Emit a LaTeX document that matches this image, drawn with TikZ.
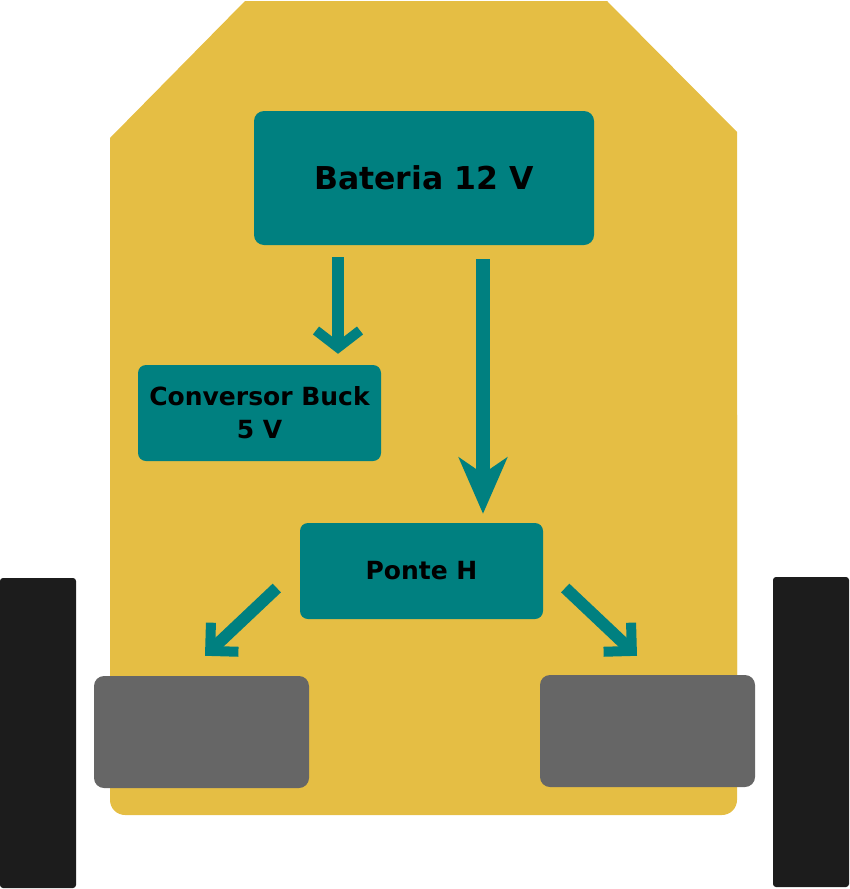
\documentclass[tikz,border=0pt]{standalone}
\usepackage{fontspec}
\setmainfont{DejaVu Sans}
\usetikzlibrary{arrows.meta,calc}
\definecolor{bodyyellow}{HTML}{E5BE44}
\definecolor{tealbox}{HTML}{008080}
\definecolor{motorgray}{HTML}{666666}
\definecolor{wheelblack}{HTML}{1C1C1C}
\begin{document}
\begin{tikzpicture}[x=1pt,y=-1pt,
  box/.style={fill=tealbox,rounded corners=10pt,inner sep=0pt,align=center,font=\bfseries\fontsize{25}{33}\selectfont},
  motor/.style={fill=motorgray,rounded corners=10pt,inner sep=0pt},
  wheel/.style={fill=wheelblack,rounded corners=3pt,inner sep=0pt,minimum width=76pt,minimum height=310pt},
  arrbarb/.style={draw=tealbox,line width=12pt},
  arrbig/.style={draw=tealbox,line width=14pt,-{Stealth[length=56pt,width=48pt,inset=16pt]}}
]
\useasboundingbox (0,0) rectangle (849,889);
% body
\fill[bodyyellow] (110,138) -- (245,1) -- (607,1) -- (737,132) -- (737,700) -- (110,700) -- cycle;
\fill[bodyyellow,rounded corners=15pt] (110,400) rectangle (737,815);
% wheels
\node[wheel] (wheelL) at (38,733) {};
\node[wheel] (wheelR) at (811,732) {};
% motors
\node[motor,minimum width=215pt,minimum height=112pt] (motorL) at (201.5,732) {};
\node[motor,minimum width=215pt,minimum height=112pt] (motorR) at (647.5,731) {};
% boxes
\node[box,minimum width=340pt,minimum height=134pt,font=\bfseries\fontsize{31.5}{36}\selectfont] (bat) at (424,178) {\raisebox{-3pt}{Bateria 12 V}};
\node[box,rounded corners=8pt,minimum width=243pt,minimum height=96pt] (buck) at (259.5,413) {\raisebox{-2pt}{Conversor Buck}\\\raisebox{-2pt}{5 V}};
\node[box,rounded corners=8pt,minimum width=243pt,minimum height=96pt] (ponte) at (421.5,571) {\raisebox{-2pt}{Ponte H}};
% connectors
\draw[arrbarb,-{Straight Barb[length=17pt,width=44pt,line width=10pt]}] ($(bat.south)+(-86,12)$) -- ($(buck.north)+(78.5,-11)$);
\draw[arrbig] ($(bat.south)+(59,14)$) -- ($(ponte.north)+(61.5,-9)$);
\draw[arrbarb,-{Straight Barb[length=20pt,width=40pt,line width=10pt]}] ($(ponte.west)+(-23,17)$) -- ($(motorL.north)+(3.5,-20)$);
\draw[arrbarb,-{Straight Barb[length=20pt,width=40pt,line width=10pt]}] ($(ponte.east)+(22,17)$) -- ($(motorR.north)+(-10.5,-19)$);
\end{tikzpicture}
\end{document}
